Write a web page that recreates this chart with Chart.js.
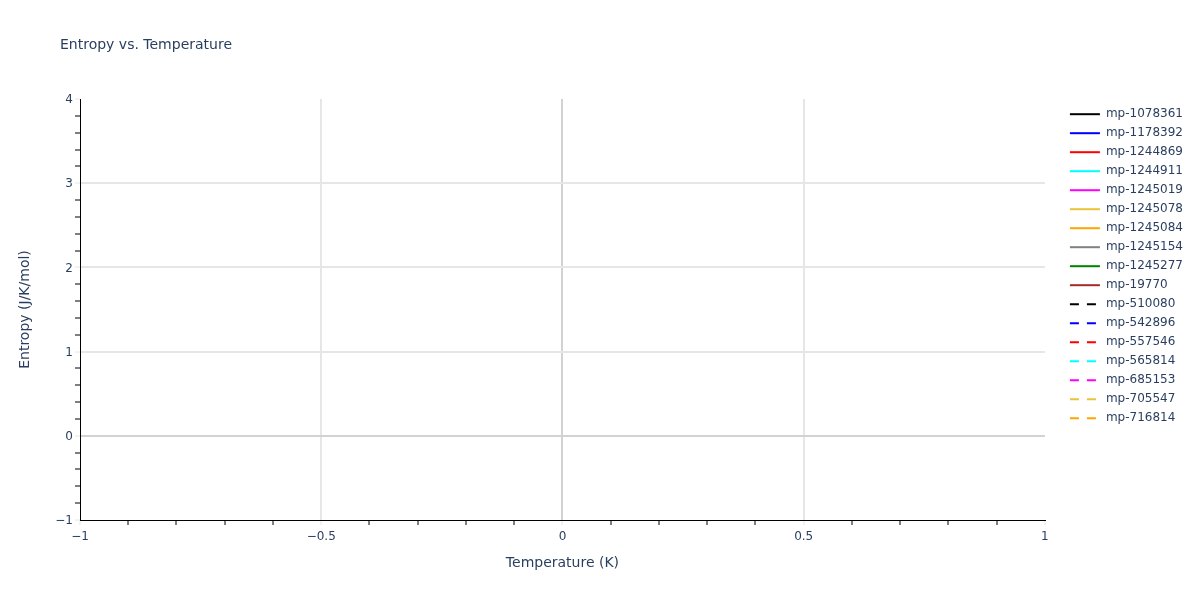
<!DOCTYPE html>
<html>
<head>
    <meta charset="utf-8">
    <title>Entropy vs. Temperature</title>
    <script src="https://cdn.jsdelivr.net/npm/chart.js@4"></script>
    <style>
        body { margin: 0; background: #fff; }
        #wrap { width: 1200px; height: 600px; }
    </style>
</head>
<body>
<div id="wrap"><canvas id="chart"></canvas></div>
<script>
    // series shown in the legend (no points are plotted in the picture)
    const seriesNames = [
        'mp-1078361', 'mp-1178392', 'mp-1244869', 'mp-1244911', 'mp-1245019',
        'mp-1245078', 'mp-1245084', 'mp-1245154', 'mp-1245277', 'mp-19770',
        'mp-510080', 'mp-542896', 'mp-557546', 'mp-565814', 'mp-685153',
        'mp-705547', 'mp-716814'
    ];
    const seriesColors = [
        '#000000', '#0000ff', '#ff0000', '#00ffff', '#ff00ff',
        '#ebc337', '#ffa500', '#808080', '#008000', '#a52a2a',
        '#000000', '#0000ff', '#ff0000', '#00ffff', '#ff00ff',
        '#ebc337', '#ffa500'
    ];
    const seriesDashed = [
        false, false, false, false, false, false, false, false, false, false,
        true, true, true, true, true, true, true
    ];
    const temperatures = [];
    const entropies = [];

    const xRange = [-1, 1];
    const yRange = [-1, 4];

    const fontFamily = '"DejaVu Sans", Verdana, sans-serif';
    const textColor = '#2a3f5f';
    const gridColor = '#e6e6e6';
    const zeroColor = '#d2d2d2';

    function fmt(v) {
        const s = String(Math.round(v * 10) / 10);
        return s.replace('-', '\u2212');
    }

    function axisGrid(step, lo, hi) {
        const isMajor = v => Math.abs(v / step - Math.round(v / step)) < 1e-6;
        return {
            color: c => {
                const v = c.tick.value;
                if (!isMajor(v) || Math.abs(v - lo) < 1e-6 || Math.abs(v - hi) < 1e-6) return 'rgba(0,0,0,0)';
                return Math.abs(v) < 1e-6 ? zeroColor : gridColor;
            },
            lineWidth: 2,
            tickColor: c => isMajor(c.tick.value) ? gridColor : '#000000',
            tickWidth: 1,
            tickLength: 5
        };
    }

    const titlePlugin = {
        id: 'plotTitle',
        afterDraw(chart) {
            const ctx = chart.ctx;
            ctx.save();
            ctx.font = '14px ' + fontFamily;
            ctx.fillStyle = textColor;
            ctx.textBaseline = 'middle';
            ctx.textAlign = 'left';
            ctx.fillText('Entropy vs. Temperature', 60, 45);
            ctx.restore();
        }
    };

    const datasets = seriesNames.map((name, i) => ({
        label: name,
        data: temperatures.map((t, k) => ({x: t, y: entropies[k]})),
        borderColor: seriesColors[i],
        backgroundColor: seriesColors[i],
        borderWidth: 2,
        borderDash: seriesDashed[i] ? [9, 8] : [],
        pointRadius: 0
    }));

    new Chart(document.getElementById('chart'), {
        type: 'line',
        data: { datasets: datasets },
        plugins: [titlePlugin],
        options: {
            responsive: true,
            maintainAspectRatio: false,
            animation: false,
            layout: { padding: { left: 0, top: 99, right: 7, bottom: 0 } },
            plugins: {
                title: { display: false },
                tooltip: { enabled: false },
                legend: {
                    position: 'right',
                    align: 'start',
                    title: { display: true, text: '', font: { size: 1 }, padding: { top: 1, bottom: 0 } },
                    labels: {
                        usePointStyle: true,
                        pointStyle: 'line',
                        pointStyleWidth: 30,
                        padding: 7,
                        color: textColor,
                        font: { family: fontFamily, size: 12 },
                        generateLabels: chart => chart.data.datasets.map((ds, i) => ({
                            text: ds.label,
                            datasetIndex: i,
                            fillStyle: ds.borderColor,
                            strokeStyle: ds.borderColor,
                            fontColor: textColor,
                            lineWidth: ds.borderWidth,
                            lineDash: ds.borderDash,
                            lineCap: 'butt',
                            pointStyle: 'line',
                            hidden: !chart.isDatasetVisible(i)
                        }))
                    }
                }
            },
            scales: {
                x: {
                    type: 'linear',
                    min: xRange[0],
                    max: xRange[1],
                    afterFit: s => { s.height = 80; },
                    border: { display: true, color: '#000000', width: 1 },
                    grid: axisGrid(0.5, xRange[0], xRange[1]),
                    ticks: {
                        stepSize: 0.1,
                        autoSkip: false,
                        maxRotation: 0,
                        padding: 5,
                        color: textColor,
                        font: { family: fontFamily, size: 12 },
                        callback: v => Math.abs(v * 2 - Math.round(v * 2)) < 1e-6 ? fmt(v) : ''
                    },
                    title: {
                        display: true,
                        text: 'Temperature (K)',
                        color: textColor,
                        font: { family: fontFamily, size: 14 },
                        padding: { top: 4, bottom: 28 }
                    }
                },
                y: {
                    type: 'linear',
                    min: yRange[0],
                    max: yRange[1],
                    afterFit: s => { s.width = 80; },
                    border: { display: true, color: '#000000', width: 1 },
                    grid: axisGrid(1, yRange[0], yRange[1]),
                    ticks: {
                        stepSize: 0.2,
                        autoSkip: false,
                        padding: 2,
                        labelOffset: 1,
                        color: textColor,
                        font: { family: fontFamily, size: 12 },
                        callback: v => Math.abs(v - Math.round(v)) < 1e-6 ? fmt(v) : ''
                    },
                    title: {
                        display: true,
                        text: 'Entropy (J/K/mol)',
                        color: textColor,
                        font: { family: fontFamily, size: 14 },
                        padding: { top: 17, bottom: 4 }
                    }
                },
                gap: {
                    type: 'linear',
                    position: 'right',
                    afterFit: s => { s.width = 18; },
                    grid: { display: false },
                    border: { display: false },
                    ticks: { display: false }
                }
            }
        }
    });
</script>
</body>
</html>
